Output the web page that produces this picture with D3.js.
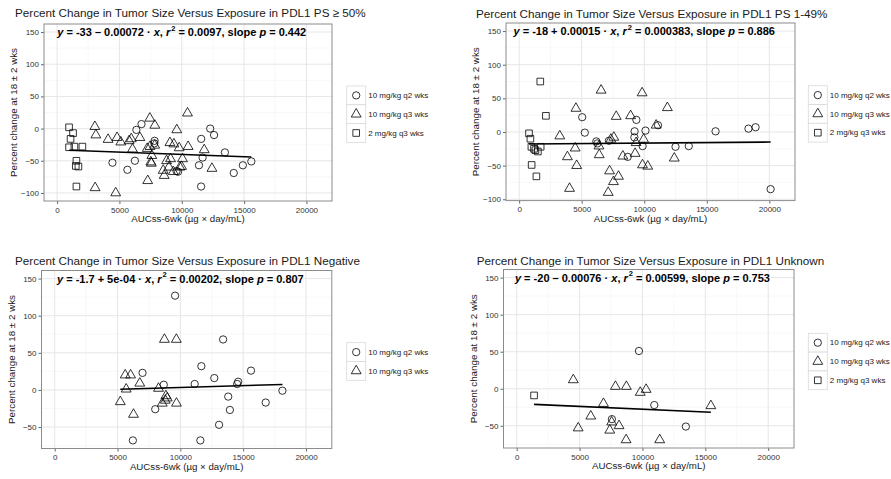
<!DOCTYPE html>
<html>
<head>
<meta charset="utf-8">
<script src="https://cdn.jsdelivr.net/npm/d3@7"></script>
<style>
  body { margin: 0; background: #fff; }
  svg { font-family: "Liberation Sans", Arial, sans-serif; }
</style>
</head>
<body>
<script>
var W = 891, H = 479;

// dose groups (legend order)
var doseGroups = ["10 mg/kg q2 wks", "10 mg/kg q3 wks", "2 mg/kg q3 wks"];

var panelTitles = [
  "Percent Change in Tumor Size Versus Exposure in PDL1 PS \u2265 50%",
  "Percent Change in Tumor Size Versus Exposure in PDL1 PS 1-49%",
  "Percent Change in Tumor Size Versus Exposure in PDL1 Negative",
  "Percent Change in Tumor Size Versus Exposure in PDL1 Unknown"
];

var xTicks = [0, 5000, 10000, 15000, 20000];
var yTicks = [-100, -50, 0, 50, 100, 150];
var xLimits = [0, 21000];

// [AUCss-6wk, percent change]
var ps50_q2 = [[4440,-53],[5640,-64],[6240,-50],[6360,-2],[6770,7],[7820,-19],[7800,-23],[9580,-66],[9700,-67],[11380,-57],[11560,-16],[11670,-45],[11550,-90],[12280,0],[12590,-10],[13460,-37],[14170,-69],[14900,-57],[15580,-51]];
var ps50_q3 = [[3030,3],[3110,-10],[3050,-92],[4090,-17],[4810,-14],[5110,-21],[4700,-100],[5780,-19],[5950,-16],[6050,-32],[6640,-14],[7440,16],[7840,5],[7230,-31],[7450,-28],[7830,-26],[7600,-42],[7520,-52],[7560,-54],[7270,-81],[9050,-22],[9370,-24],[9600,-2],[9790,-30],[10510,-28],[10460,24],[10060,-47],[9850,-60],[9100,-47],[8780,-50],[8510,-65],[8590,-73],[8970,-60],[9320,-67],[9980,-59],[11800,-33],[12420,-62]];
var ps50_2mg = [[960,2],[1280,-7],[1080,-16],[960,-29],[1390,-28],[2030,-28],[1550,-50],[1500,-58],[1710,-59],[1550,-90]];

var ps149_q2 = [[5040,22],[5250,-1],[6170,-14],[6250,-17],[7180,-13],[9230,1],[9370,18],[9210,-8],[9870,-21],[10100,2],[11100,10],[8680,-37],[12500,-22],[13560,-21],[15700,1],[18330,5],[18900,7],[20100,-85]];
var ps149_q3 = [[3250,-6],[4540,35],[4480,-24],[3860,-37],[4600,-50],[4030,-84],[6550,62],[6380,-21],[6400,-34],[7570,-8],[7330,-11],[7760,23],[7230,-58],[7940,-66],[7540,-74],[7120,-90],[8290,-36],[8910,24],[9270,-32],[9350,-16],[9950,-11],[9830,58],[9860,-49],[10280,-51],[10950,10],[11850,36],[12400,-39]];
var ps149_2mg = [[1690,75],[2140,24],[790,-2],[900,-10],[980,-22],[1190,-25],[1300,-27],[1500,-29],[1720,-22],[1000,-49],[1380,-66]];

var neg_q2 = [[9580,127],[13400,68],[11670,32],[6990,23],[15620,26],[12700,16],[11140,8],[8680,7],[14600,11],[14520,8],[18120,-1],[13810,-9],[13940,-27],[16790,-17],[8000,-26],[13080,-47],[6220,-68],[11590,-68]];
var neg_q3 = [[8730,68],[9680,68],[5610,20],[6040,20],[6770,9],[5690,1],[8260,2],[5220,-16],[6270,-33],[8850,-8],[8960,-11],[8800,-14],[8560,-18],[9690,-18]];

var unk_q2 = [[9720,51],[10940,-22],[7570,-41],[13450,-51]];
var unk_q3 = [[4500,12],[7850,3],[8720,3],[9825,-5],[10290,-1],[6900,-20],[15440,-23],[5890,-37],[4890,-53],[7550,-45],[7400,-56],[8140,-50],[8700,-69],[11370,-69]];
var unk_2mg = [[1380,-9]];

// fitted lines and their labels
var intercepts = [-33, -18, -1.7, -20];
var slopes = [-0.00072, 0.00015, 0.0005, -0.00076];
var eqCoef = ["-33 \u2013 0.00072", "-18 + 0.00015", "-1.7 + 5e-04", "-20 \u2013 0.00076"];
var eqR2 = ["0.0097", "0.000383", "0.00202", "0.00599"];
var eqP = ["0.442", "0.886", "0.807", "0.753"];

var panels = [
  {groups: [ps50_q2, ps50_q3, ps50_2mg], box: {l: 44, t: 24, r: 332, b: 201}, title: {x: 15, y: 17}, legend: {x: 346.7, y: 86}},
  {groups: [ps149_q2, ps149_q3, ps149_2mg], box: {l: 506, t: 23, r: 795, b: 200.6}, title: {x: 476, y: 17.5}, legend: {x: 808.3, y: 85.7}},
  {groups: [neg_q2, neg_q3], box: {l: 41.5, t: 270.5, r: 331.8, b: 448.5}, title: {x: 15, y: 265}, legend: {x: 346.7, y: 342.7}},
  {groups: [unk_q2, unk_q3, unk_2mg], box: {l: 503.5, t: 269.5, r: 794, b: 448}, title: {x: 476.7, y: 265}, legend: {x: 808.3, y: 333.3}}
];

var shapes = [d3.symbolCircle, d3.symbolTriangle, d3.symbolSquare];
var shapeSizes = [42, 42, 44];

var svg = d3.select("body").append("svg")
  .attr("width", W).attr("height", H);

panels.forEach(function(p, k) {
  var b = p.box;
  var all = [].concat.apply([], p.groups);
  var ymin = Math.min(d3.min(all, function(d){ return d[1]; }), 150);
  var ymax = Math.max(d3.max(all, function(d){ return d[1]; }), 150);
  var ypad = (ymax - ymin) * 0.05;
  var xpad = (xLimits[1] - xLimits[0]) * 0.05;

  var x = d3.scaleLinear().domain([xLimits[0] - xpad, xLimits[1] + xpad]).range([b.l, b.r]);
  var y = d3.scaleLinear().domain([ymin - ypad, ymax + ypad]).range([b.b, b.t]);

  var g = svg.append("g");

  // minor grid
  var xMinor = xTicks.map(function(t){ return t + 2500; }).filter(function(t){ return t < x.domain()[1]; });
  var yMinor = yTicks.map(function(t){ return t - 25; }).concat([175]).filter(function(t){ return t > y.domain()[0] && t < y.domain()[1]; });
  g.selectAll(".xminor").data(xMinor).enter().append("line")
    .attr("x1", x).attr("x2", x).attr("y1", b.t).attr("y2", b.b)
    .attr("stroke", "#f3f3f3").attr("stroke-width", 0.6);
  g.selectAll(".yminor").data(yMinor).enter().append("line")
    .attr("y1", y).attr("y2", y).attr("x1", b.l).attr("x2", b.r)
    .attr("stroke", "#f3f3f3").attr("stroke-width", 0.6);

  // major grid
  var yShown = yTicks.filter(function(t){ return t >= y.domain()[0] && t <= y.domain()[1]; });
  g.selectAll(".xmajor").data(xTicks).enter().append("line")
    .attr("x1", x).attr("x2", x).attr("y1", b.t).attr("y2", b.b)
    .attr("stroke", "#e6e6e6").attr("stroke-width", 1);
  g.selectAll(".ymajor").data(yShown).enter().append("line")
    .attr("y1", y).attr("y2", y).attr("x1", b.l).attr("x2", b.r)
    .attr("stroke", "#e6e6e6").attr("stroke-width", 1);

  // axes
  var xAxis = g.append("g").attr("transform", "translate(0," + b.b + ")")
    .call(d3.axisBottom(x).tickValues(xTicks).tickSize(3).tickPadding(3).tickFormat(d3.format("d")));
  var yAxis = g.append("g").attr("transform", "translate(" + b.l + ",0)")
    .call(d3.axisLeft(y).tickValues(yShown).tickSize(3).tickPadding(2).tickFormat(d3.format("d")));
  [xAxis, yAxis].forEach(function(a) {
    a.select(".domain").remove();
    a.selectAll(".tick line").attr("stroke", "#666");
    a.selectAll(".tick text").attr("fill", "#333").style("font-size", "8px")
      .style("font-family", "'Liberation Sans', Arial, sans-serif");
  });

  // border
  g.append("rect").attr("x", b.l).attr("y", b.t)
    .attr("width", b.r - b.l).attr("height", b.b - b.t)
    .attr("fill", "none").attr("stroke", "#8c8c8c").attr("stroke-width", 1);

  // points
  p.groups.forEach(function(pts, gi) {
    g.selectAll(".pt" + gi).data(pts).enter().append("path")
      .attr("d", d3.symbol().type(shapes[gi]).size(shapeSizes[gi]))
      .attr("transform", function(d){ return "translate(" + x(d[0]) + "," + y(d[1]) + ")"; })
      .attr("fill", "none").attr("stroke", "#000").attr("stroke-width", 0.8);
  });

  // fitted line over the observed exposure range
  var xr = d3.extent(all, function(d){ return d[0]; });
  var line = d3.line().x(function(d){ return x(d); })
    .y(function(d){ return y(intercepts[k] + slopes[k] * d); });
  g.append("path").attr("d", line(xr))
    .attr("fill", "none").attr("stroke", "#000").attr("stroke-width", 1.6);

  // equation label at (10000, 150)
  var eq = g.append("text").attr("x", x(10000)).attr("y", y(150) + 4)
    .attr("text-anchor", "middle").attr("font-weight", "bold")
    .style("font-size", "11px").attr("fill", "#000");
  var segs = [
    {t: "y", it: true}, {t: " = " + eqCoef[k] + " \u00b7 "}, {t: "x", it: true}, {t: ",  "},
    {t: "r", it: true}, {t: "2", sup: true}, {t: " = " + eqR2[k] + ", slope "},
    {t: "p", it: true}, {t: " = " + eqP[k]}
  ];
  var lastSup = false;
  segs.forEach(function(s) {
    var ts = eq.append("tspan").text(s.t);
    if (s.it) ts.attr("font-style", "italic");
    if (s.sup) { ts.attr("dy", -5.5).attr("dx", 1).style("font-size", "7.5px"); lastSup = true; }
    else if (lastSup) { ts.attr("dy", 5.5); lastSup = false; }
  });

  // title
  svg.append("text").attr("x", p.title.x).attr("y", p.title.y)
    .style("font-size", "11.7px").attr("fill", "#1a1a1a").text(panelTitles[k]);

  // axis titles
  svg.append("text").attr("x", (b.l + b.r) / 2).attr("y", b.b + 21)
    .attr("text-anchor", "middle").style("font-size", "9.7px").attr("fill", "#1a1a1a")
    .text("AUCss-6wk (\u00b5g \u00d7 day/mL)");
  svg.append("text")
    .attr("transform", "translate(" + (b.l - 27) + "," + ((b.t + b.b) / 2) + ") rotate(-90)")
    .attr("text-anchor", "middle").style("font-size", "9.8px").attr("fill", "#1a1a1a")
    .text("Percent change at 18 \u00b1  2 wks");

  // legend
  var lg = svg.append("g").attr("transform", "translate(" + p.legend.x + "," + p.legend.y + ")");
  var keyH = 18.8, keyW = 19;
  p.groups.forEach(function(pts, gi) {
    lg.append("rect").attr("x", 0).attr("y", gi * keyH).attr("width", keyW).attr("height", keyH)
      .attr("fill", "#fff").attr("stroke", "#d9d9d9").attr("stroke-width", 0.8);
    lg.append("path")
      .attr("d", d3.symbol().type(shapes[gi]).size(shapeSizes[gi]))
      .attr("transform", "translate(" + (keyW / 2) + "," + (gi * keyH + keyH / 2) + ")")
      .attr("fill", "none").attr("stroke", "#000").attr("stroke-width", 0.8);
    lg.append("text").attr("x", keyW + 2.5).attr("y", gi * keyH + keyH / 2 + 2.8)
      .style("font-size", "8px").attr("fill", "#1a1a1a").text(doseGroups[gi]);
  });
});
</script>
</body>
</html>
